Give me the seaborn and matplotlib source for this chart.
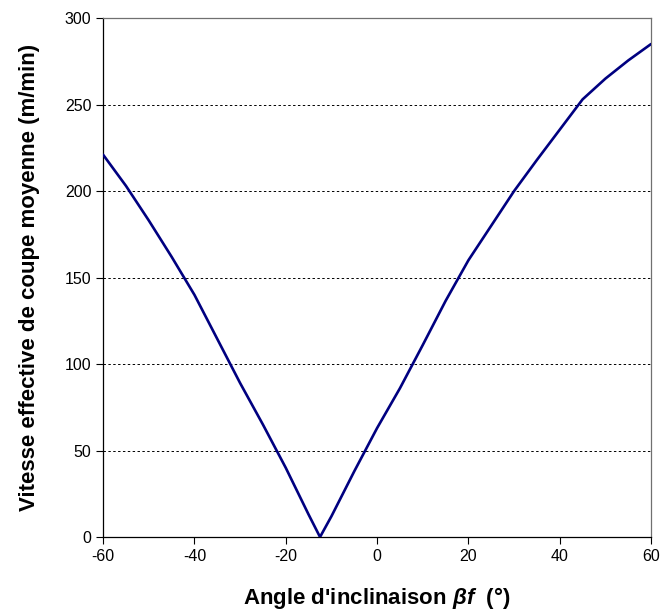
import numpy as np
import pandas as pd
import matplotlib
matplotlib.use("Agg")
import matplotlib.pyplot as plt
import seaborn as sns

# angle d'inclinaison (deg) and mean effective cutting speed (m/min)
angle = [-60, -55, -50, -45, -40, -35, -30, -25, -20, -15, -12.5,
         -10, -5, 0, 5, 10, 15, 20, 25, 30, 35, 40, 45, 50, 55, 60]
vitesse = [221, 203, 183, 162, 140, 114.5, 89, 65, 40, 13, 0,
           12, 38, 63, 86, 111, 136.5, 160, 180, 200, 218, 235.5, 253, 265, 275.5, 285]

df = pd.DataFrame({"angle": angle, "vitesse": vitesse})

sns.set_style("ticks")
plt.rcParams['font.family'] = ['Liberation Sans', 'DejaVu Sans']
plt.rcParams['mathtext.fontset'] = 'custom'
plt.rcParams['mathtext.bfit'] = 'Liberation Sans:bold:italic'
plt.rcParams['mathtext.rm'] = 'Liberation Sans'
plt.rcParams['axes.unicode_minus'] = False

fig = plt.figure(figsize=(6.61, 6.12), dpi=100)
ax = fig.add_axes([0.156, 0.1225, 0.829, 0.848])

# dashed horizontal gridlines
for yv in [50, 100, 150, 200, 250]:
    ax.axhline(yv, color='black', linestyle=(0, (2.5, 2.5)), linewidth=0.7, zorder=1)

sns.lineplot(data=df, x="angle", y="vitesse", ax=ax, color='#000080', linewidth=1.9, zorder=3)

ax.set_xlim(-60, 60)
ax.set_ylim(0, 300)
ax.set_xticks([-60, -40, -20, 0, 20, 40, 60])
ax.set_yticks([0, 50, 100, 150, 200, 250, 300])
ax.tick_params(axis='both', labelsize=11.5, length=5, width=0.8, color='black',
               labelcolor='black', direction='out')

for s in ['left', 'bottom']:
    ax.spines[s].set_color('black')
    ax.spines[s].set_linewidth(0.9)
for s in ['top', 'right']:
    ax.spines[s].set_visible(True)
    ax.spines[s].set_color('#707070')
    ax.spines[s].set_linewidth(0.9)

ax.set_xlabel(r"Angle d'inclinaison $\mathbfit{\beta f}$  (°)", fontsize=16, fontweight='bold',
              labelpad=15, color='black')
ax.set_ylabel("Vitesse effective de coupe moyenne (m/min)", fontsize=16, fontweight='bold',
              labelpad=18, color='black')

fig.savefig("out.png", dpi=100)
